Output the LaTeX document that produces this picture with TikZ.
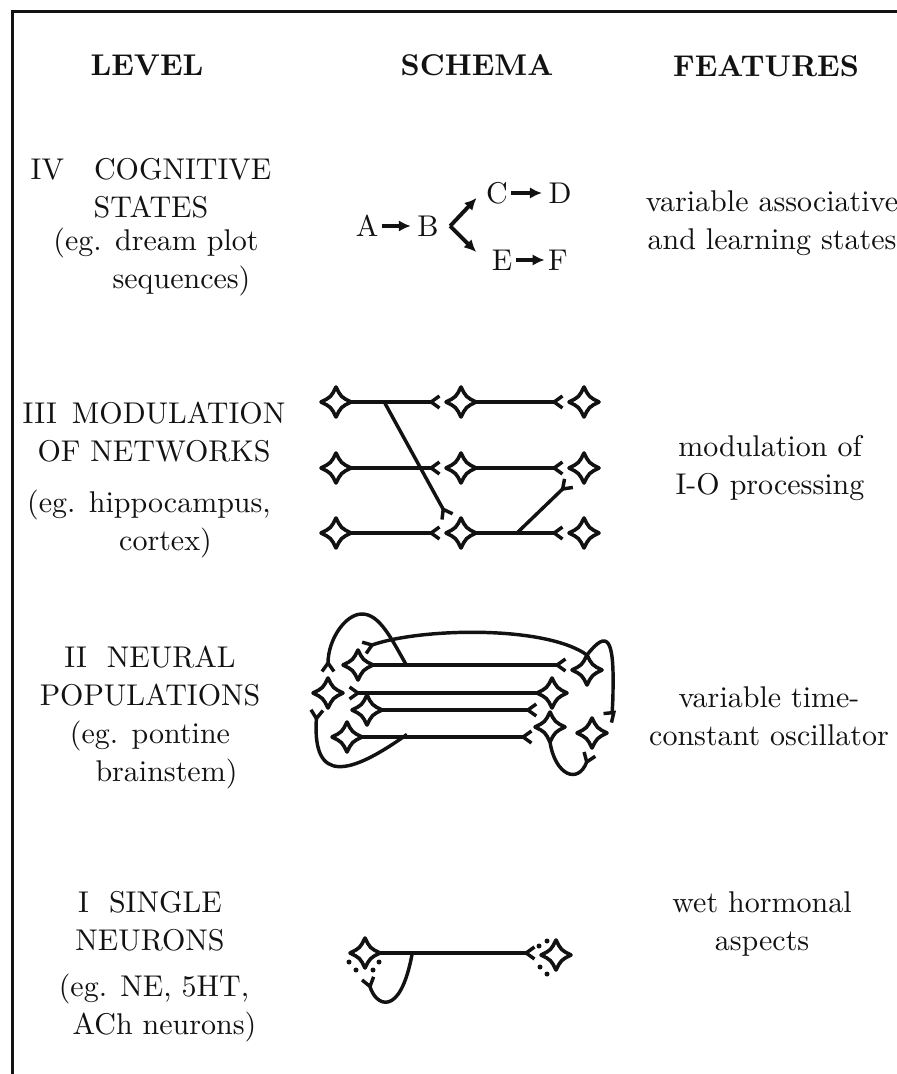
\documentclass[tikz,border=0pt]{standalone}
\usetikzlibrary{arrows.meta,positioning,calc}
\definecolor{ink}{RGB}{18,18,18}
\tikzset{
  >={Latex[length=4pt,width=3.8pt]},
  head/.style={font=\bfseries,text=ink,inner sep=0pt},
  lvl/.style={font=\fontsize{10}{12.7}\selectfont,align=center,text=ink,inner sep=0pt},
  letter/.style={font=\fontsize{10}{12}\selectfont,text=ink,inner sep=1pt},
  flow/.style={->,line width=1.3pt,draw=ink},
  axon/.style={line width=1.15pt,draw=ink},
  syn/.style={axon,-{Straight Barb[reversed,length=2.8pt,width=4pt]},shorten >=1.6pt},
  soma/.style={circle,minimum size=10pt,inner sep=0pt,outer sep=0pt},
  % pictograms
  pics/spike/.style={code={
    \draw[line width=1.2pt,ink,line join=round] (0,-15) .. controls (5,-5) .. (15,0) .. controls (5,5) .. (0,15)
      .. controls (-5,5) .. (-15,0) .. controls (-5,-5) .. cycle;
  }},
}
\begin{document}
\begin{tikzpicture}[x=0.3333pt,y=-0.3333pt]
    \useasboundingbox (0,0) rectangle (896,1074);
    \draw[line width=1pt,ink] (12,12) rectangle (912,1090);
    % column heads
    \node[head] (hlevel) at (147,65) {LEVEL};
    \node[head] (hschema) at (477,65) {SCHEMA};
    \node[head] (hfeat) at (766,66) {FEATURES};
    % level IV
    \node[lvl] (lvl4) at (151,188) {IV\quad COGNITIVE\\STATES};
    \node[lvl] (ex4) at (156,262) {(eg. dream plot\\\hspace*{17pt}sequences)};
    \node[lvl] (feat4) at (772,223) {variable associative\\and learning states};
    \node[letter] (A) at (367,226) {A};
    \node[letter] (B) at (428,226) {B};
    \node[letter] (C) at (497,193) {C};
    \node[letter] (D) at (560,193) {D};
    \node[letter] (E) at (502,260) {E};
    \node[letter] (F) at (558,260) {F};
    \coordinate (fork) at ($(B.east)+(8,0)$);
    \coordinate (toC) at ($(C.west)+(-6,5)$);
    \coordinate (toE) at ($(E.west)+(-12,-8)$);
    \draw[flow,shorten >=1pt] (A) -- (B);
    \draw[flow,shorten >=1pt] (C) -- (D);
    \draw[flow] (E) -- (F);
    \draw[flow] (fork) -- (toC);
    \draw[flow] (fork) -- (toE);
    % level III
    \node[lvl] (lvl3) at (154,432) {III\enspace MODULATION\\OF NETWORKS};
    \node[lvl] (ex3) at (149,524) {(eg. hippocampus,\\\hspace*{11pt}cortex)};
    \node[lvl] (feat3) at (770,468) {modulation of\\I-O processing};
    \foreach \r/\y in {1/402,2/468,3/533}
      \foreach \c/\x in {1/336,2/461,3/584}
        \node[soma] (c\r\c) at (\x,\y) {};
    \foreach \r in {1,2,3} {
      \foreach \c in {1,2,3} \pic at (c\r\c) {spike};
      \draw[syn] (c\r1.east) -- (c\r2.west);
      \draw[syn] (c\r2.east) -- (c\r3.west);
    }
    \coordinate (x1) at ($(c11.east)!0.35!(c12.west)$);
    \coordinate (x2) at ($(c32.east)!0.44!(c33.west)$);
    \draw[syn] (x1) -- (c32.north west);
    \draw[syn] (x2) -- (c23.south west);
    % level II
    \node[lvl] (lvl2) at (150,676) {II\ \ NEURAL\\POPULATIONS};
    \node[lvl] (ex2) at (150,755) {(eg. pontine\\\hspace*{11pt}brainstem)};
    \node[lvl] (feat2) at (769,716) {variable time-\\constant oscillator};
    \node[soma] (a1) at (358,665) {};
    \node[soma] (a2) at (328,693) {};
    \node[soma] (a3) at (367,710) {};
    \node[soma] (a4) at (347,737) {};
    \node[soma] (b1) at (587,670) {};
    \node[soma] (b2) at (552,693) {};
    \node[soma] (b3) at (550,727) {};
    \node[soma] (b4) at (592,733) {};
    \foreach \n in {a1,a2,a3,a4,b1,b2,b3,b4} \pic at (\n) {spike};
    \draw[syn] (a1.east) -- (a1.east -| b1.west);
    \draw[syn] (b2.west) -- (a2.east);
    \draw[syn,shorten >=-1pt] (a3.east) -- (a3.east -| b3.west);
    \draw[syn,shorten >=0.6pt] (a4.east) -- (a4.east -| b3.west);
    \coordinate (br1) at ($(a1.east)!0.17!(b1.west)$);
    \coordinate (br4) at ($(a4.east)!0.26!(b3.west)$);
    \draw[syn] (b1.north) .. controls (545,625) and (420,628) .. (a1.north);
    \draw[syn] (b1.north) .. controls (608,628) and (614,640) .. (613,690) .. controls (613,708) and (611,715) .. (b4.north east);
    \draw[syn] (br1) .. controls (392,640) and (380,614) .. (362,614) .. controls (345,614) and (328,640) .. (a2.north);
    \draw[syn] (br4) .. controls (350,775) and (312,785) .. (a2.south west);
    \draw[syn] (b3.south) .. controls (555,775) and (578,785) .. (b4.south);
    % level I
    \node[lvl] (lvl1) at (150,921) {I\ \ SINGLE\\NEURONS};
    \node[lvl] (ex1) at (154,1008) {(eg. NE, 5HT,\\\hspace*{7pt}ACh neurons)};
    \node[lvl] (feat1) at (762,924) {wet hormonal\\aspects};
    \node[soma] (d1) at (365,953) {};
    \node[soma] (d2) at (556,955) {};
    \pic at (d1) {spike};
    \pic at (d2) {spike};
    \coordinate (x3) at ($(d1.east)!0.2!(d2.west)$);
    \draw[syn] (d1.east) -- (d1.east -| d2.west);
    \draw[syn,shorten >=3pt] (x3) .. controls (400,1020) and (375,1005) .. (d1.south);
    \foreach \dx/\dy in {-16/9,14/9,-9/17,8/17} \fill[ink] ($(d1)+(\dx,\dy)$) circle (2.5);
    \foreach \dx/\dy in {-17/-9,-9/-14,-16/12,-9/19} \fill[ink] ($(d2)+(\dx,\dy)$) circle (2.5);
\end{tikzpicture}
\end{document}
